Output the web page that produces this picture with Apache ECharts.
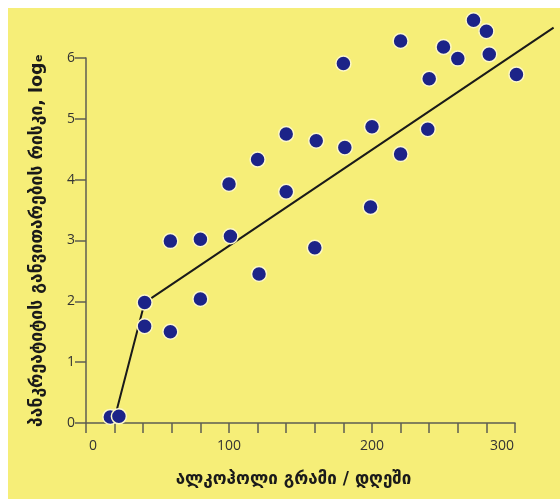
<!DOCTYPE html>
<html><head><meta charset="utf-8">
<script src="https://cdn.jsdelivr.net/npm/echarts@6/dist/echarts.min.js"></script>
<style>html,body{margin:0;padding:0;background:#fff}#c{width:560px;height:502px}</style>
</head><body><div id="c"></div>
<script>
const xTitle = 'ალკოჰოლი გრამი / დღეში';
const yTitle = 'პანკრეატიტის განვითარების რისკი, logₑ';
const alcohol = [17, 23, 41, 41, 59, 80, 121, 59, 80, 101, 160, 100, 120, 140, 140, 161, 181, 200, 199, 220, 239, 180, 220, 240, 250, 260, 271, 280, 282, 301];
const risk    = [0.10, 0.11, 1.98, 1.59, 1.50, 2.04, 2.45, 2.99, 3.02, 3.07, 2.88, 3.93, 4.33, 3.80, 4.75, 4.64, 4.53, 4.87, 3.55, 4.42, 4.83, 5.91, 6.28, 5.66, 6.18, 5.99, 6.62, 6.44, 6.06, 5.73];
const trendX = [20, 41, 327];
const trendY = [0.08, 1.98, 6.5];
const xLabelValues = [0, 100, 200, 300];
const xMax = 300, yMax = 6;          // visible axis extent
const xPlotMax = 330, yPlotMax = 6.8; // data drawn beyond the axes

const L = 86, B = 423, W = 429, H = 365;
const pxX = W / xMax, pxY = H / yMax;

const chart = echarts.init(document.getElementById('c'), null, {renderer: 'canvas'});
const axisColor = '#5e5e52';
const labelColor = '#333333';
chart.setOption({
  animation: false,
  backgroundColor: '#ffffff',
  graphic: [{
    type: 'rect', z: -10, silent: true,
    shape: {x: 8, y: 8, width: 552, height: 491},
    style: {fill: '#f6ee78'}
  }],
  grid: [
    {left: L, top: B - H, width: W, height: H},
    {left: L, top: B - yPlotMax * pxY, width: xPlotMax * pxX, height: yPlotMax * pxY}
  ],
  xAxis: [{
    gridIndex: 0, type: 'value', min: 0, max: xMax, interval: 20,
    splitLine: {show: false},
    axisLine: {show: true, lineStyle: {color: axisColor, width: 1.5}},
    axisTick: {show: true, length: 10, lineStyle: {color: axisColor, width: 1.5}},
    axisLabel: {
      margin: 16, color: labelColor, fontSize: 14, fontFamily: 'Open Sans',
      formatter: function (v) {
        if (xLabelValues.indexOf(v) < 0) return '';
        if (v === 0) return '{l|' + v + '}';
        if (v === 300) return '{r|' + v + '}';
        return String(v);
      },
      rich: {
        l: {fontSize: 14, fontFamily: 'Open Sans', color: labelColor, padding: [0, 0, 0, 14]},
        r: {fontSize: 14, fontFamily: 'Open Sans', color: labelColor, padding: [0, 26, 0, 0]}
      }
    },
    name: xTitle, nameLocation: 'middle', nameGap: 48,
    nameTextStyle: {fontFamily: 'DejaVu Sans', fontWeight: 'bold', fontSize: 17, color: '#1a1a1a', padding: [0, 14, 0, 0]}
  }, {
    gridIndex: 1, type: 'value', min: 0, max: xPlotMax, show: false
  }],
  yAxis: [{
    gridIndex: 0, type: 'value', min: 0, max: yMax, interval: 1,
    splitLine: {show: false},
    axisLine: {show: true, lineStyle: {color: axisColor, width: 1.5}},
    axisTick: {show: true, length: 11, lineStyle: {color: axisColor, width: 1.5}},
    axisLabel: {margin: 11, color: labelColor, fontSize: 14, fontFamily: 'Open Sans'},
    name: yTitle, nameLocation: 'middle', nameGap: 40, nameRotate: 90,
    nameTextStyle: {fontFamily: 'DejaVu Sans', fontWeight: 'bold', fontSize: 17.5, color: '#1a1a1a'}
  }, {
    gridIndex: 1, type: 'value', min: 0, max: yPlotMax, show: false
  }],
  series: [{
    type: 'line', xAxisIndex: 1, yAxisIndex: 1, clip: false, z: 2,
    data: trendX.map((x, i) => [x, trendY[i]]),
    showSymbol: false, symbol: 'none',
    lineStyle: {color: '#1a1a1a', width: 2}
  }, {
    type: 'scatter', xAxisIndex: 1, yAxisIndex: 1, clip: false, z: 3,
    data: alcohol.map((x, i) => [x, risk[i]]),
    symbol: 'circle', symbolSize: 15,
    itemStyle: {color: '#1c2388', borderColor: '#fdf8c8', borderWidth: 1.5, opacity: 1}
  }]
});
</script></body></html>
